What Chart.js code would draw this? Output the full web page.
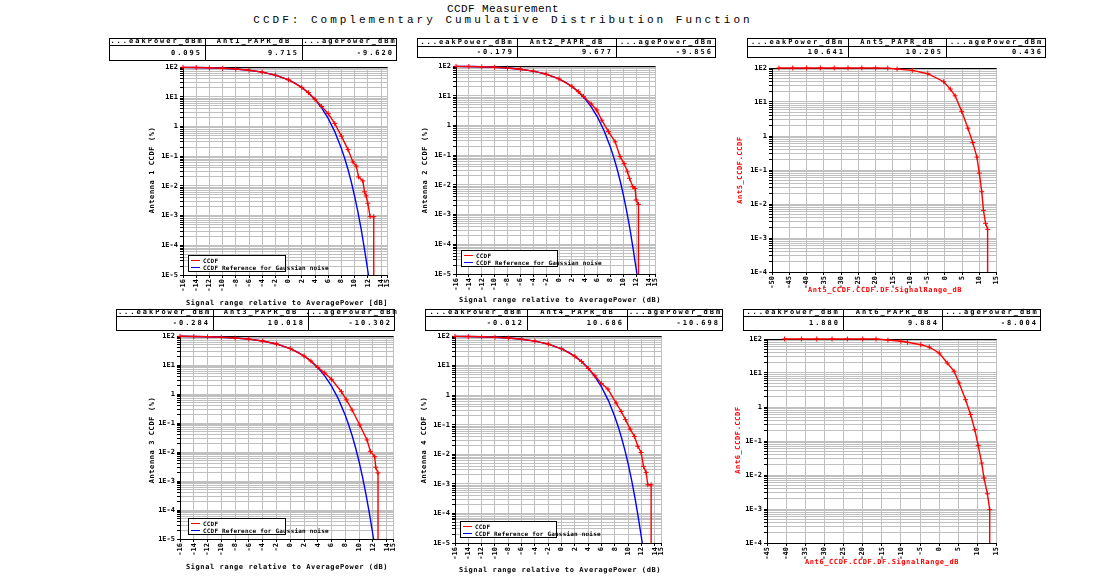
<!DOCTYPE html>
<html><head><meta charset="utf-8">
<script src="https://cdn.jsdelivr.net/npm/chart.js@4/dist/chart.umd.min.js"></script>
<style>
body{margin:0;background:#fff;width:1095px;height:585px;position:relative;overflow:hidden;font-family:'DejaVu Sans Mono',monospace;}
.ttl{position:absolute;left:0;width:1006px;text-align:center;font-family:'Liberation Mono',monospace;font-size:11px;line-height:11px;color:#000;}
.tbl{position:absolute;border:1.5px solid #000;box-sizing:border-box;font:bold 7px 'DejaVu Sans Mono',monospace;letter-spacing:2px;color:#000;}
.cell{position:absolute;box-sizing:border-box;white-space:nowrap;display:flex;align-items:center;line-height:7px;}
.axt{position:absolute;white-space:nowrap;font:bold 7px 'DejaVu Sans Mono',monospace;letter-spacing:0.6px;color:#000;transform:translate(-50%,-50%);}
.rot{transform:translate(-50%,-50%) rotate(-90deg);}
.leg{position:absolute;border:1.5px solid #000;background:#fff;box-sizing:border-box;font:bold 6px 'DejaVu Sans Mono',monospace;letter-spacing:0.2px;color:#000;}
.legrow{position:absolute;left:2px;display:flex;align-items:center;white-space:nowrap;line-height:7px;}
.legline{display:inline-block;width:9px;height:0;border-top:1.5px solid;margin-right:3px;}
canvas{position:absolute;}
</style></head><body>
<div class="ttl" style="top:4px;letter-spacing:0.4px">CCDF Measurement</div>
<div class="ttl" style="top:15px;letter-spacing:3px">CCDF: Complementary Cumulative Distribution Function</div>
<script>
// ---------------- data ----------------
const gaussX = [-16,-14,-12,-10,-8,-6,-4,-2,0,1,2,3,4,5,6,7,8,8.5,9,9.5,10,10.5,11,11.5,12.1];
const gaussY = [97.5,96.1,93.9,90.5,85.3,77.8,67.2,53.2,36.8,28.4,20.5,13.6,8.1,4.23,1.87,0.666,0.182,0.0842,0.0355,0.0135,0.00454,0.00134,0.00034,0.000073,0.00001];

const ant1X = [-16,-14,-12,-10,-8,-6,-4,-2,0,2,3,4,5,6,7,8,9,9.75,10.25,10.6,11.25,11.5,11.75,12,12.35,12.9,12.9];
const ant1Y = [97.5,96.1,93.9,90.5,85.3,77.8,67.2,53.2,36.8,20.5,13.7,8.2,4.7,2.7,1.25,0.47,0.166,0.064,0.046,0.020,0.0147,0.0063,0.0046,0.0026,0.00092,0.00092,0.00001];

const ant2X = [-16,-14,-12,-10,-8,-6,-4,-2,0,2,3,3.8,5,5.86,6.64,7.68,8.72,9.49,10.11,10.63,10.94,11.46,11.82,11.98,12.34,12.34];
const ant2Y = [97.5,96.1,93.9,90.5,85.3,77.8,67.2,53.2,36.8,20.5,13.7,9.5,5.3,3.3,1.5,0.62,0.28,0.089,0.052,0.0275,0.0166,0.0087,0.0076,0.0031,0.0022,0.00001];

const ant3X = [-16,-14,-12,-10,-8,-6,-4,-2,0,2,3,4,5,6,7.43,8.15,8.98,10.09,11.15,11.63,12.26,12.4,12.74,12.74];
const ant3Y = [97.5,96.1,93.9,90.5,85.3,77.8,67.2,53.2,36.8,20.5,13.7,8.3,5.3,3.2,1.2,0.63,0.28,0.085,0.026,0.0105,0.0069,0.003,0.0019,0.00001];

const ant4X = [-16,-14,-12,-10,-8,-6,-4,-2,0,2,3,4,5,5.95,6.95,8.19,8.94,9.59,10.28,10.93,11.43,11.93,12.28,12.68,12.93,13.43,13.43];
const ant4Y = [97.5,96.1,93.9,90.5,85.3,77.8,67.2,53.2,36.8,20.5,13.7,8.0,4.5,2.5,1.6,0.54,0.28,0.148,0.071,0.04,0.0186,0.0115,0.0039,0.00245,0.00093,0.00093,0.00001];

const ant5X = [-48,-44,-40,-36,-32,-28,-24,-20,-16.5,-13.8,-9.4,-4.9,-0.3,1.6,3.0,4.9,6.7,8.1,9.3,10.0,10.7,11.2,11.8,12.4,12.4];
const ant5Y = [100,100,100,100,100,100,100,100,99,93.4,85,68,39.5,24,15.2,5.3,1.7,0.64,0.24,0.081,0.023,0.0065,0.0027,0.0018,0.0001];

const ant6X = [-40.4,-36,-32,-28,-24,-20,-16.5,-13.4,-10,-8.3,-4.8,-2.6,0,2.1,3.9,5.2,6.9,8.2,9.3,10.2,11.1,11.7,12.6,13.2,13.2];
const ant6Y = [100,100,100,100,100,100,99.5,93,86,80,68,58,38.7,19.7,11.2,5.1,1.64,0.6,0.215,0.073,0.0225,0.0082,0.0028,0.00096,0.0001];

const dbTicks = [-16,-14,-12,-10,-8,-6,-4,-2,0,2,4,6,8,10,12,14,15];
const wideTicks5 = [-50,-45,-40,-35,-30,-25,-20,-15,-10,-5,0,5,10,15];
const wideTicks6 = [-45,-40,-35,-30,-25,-20,-15,-10,-5,0,5,10,15];

const tblHeads = {
  p1:["...eakPower_dBm","Ant1_PAPR_dB","...agePower_dBm"],
  p2:["...eakPower_dBm","Ant2_PAPR_dB","...agePower_dBm"],
  p3:["...eakPower_dBm","Ant5_PAPR_dB","...agePower_dBm"],
  p4:["...eakPower_dBm","Ant3_PAPR_dB","...agePower_dBm"],
  p5:["...eakPower_dBm","Ant4_PAPR_dB","...agePower_dBm"],
  p6:["...eakPower_dBm","Ant6_PAPR_dB","...agePower_dBm"]
};
const tblVals = {
  p1:["0.095","9.715","-9.620"],
  p2:["-0.179","9.677","-9.856"],
  p3:["10.641","10.205","0.436"],
  p4:["-0.284","10.018","-10.302"],
  p5:["-0.012","10.686","-10.698"],
  p6:["1.880","9.884","-8.004"]
};
const xTitleStd = "Signal range relative to AveragePower [dB]";
const xTitleStd2 = "Signal range relative to AveragePower (dB)";
const yTitles = {p1:"Antenna 1 CCDF (%)",p2:"Antenna 2 CCDF (%)",p3:"Ant5_CCDF.CCDF",p4:"Antenna 3 CCDF (%)",p5:"Antenna 4 CCDF (%)",p6:"Ant6_CCDF.CCDF"};
const legLabels = ["CCDF","CCDF Reference for Gaussian noise"];

// ---------------- helpers ----------------
const RED='#ff0000', BLUE='#0000ff';
const FONT="'DejaVu Sans Mono', monospace";

function makeTable(x,y,cols,hH,vH,heads,vals){
  const t=document.createElement('div');t.className='tbl';
  const W=cols[cols.length-1]-x;
  t.style.cssText+=`left:${x}px;top:${y}px;width:${W}px;height:${hH+vH}px;`;
  for(let i=0;i<3;i++){
    const l=(i===0?x:cols[i-1])-x, r=cols[i]-x;
    const h=document.createElement('div');h.className='cell';
    h.style.cssText=`left:${l-1}px;top:-1px;width:${r-l}px;height:${hH}px;justify-content:center;border-bottom:1.5px solid #000;${i>0?'border-left:1.5px solid #000;':''}`;
    h.textContent=heads[i];t.appendChild(h);
    const v=document.createElement('div');v.className='cell';
    v.style.cssText=`left:${l-1}px;top:${hH-1}px;width:${r-l}px;height:${vH-1}px;justify-content:flex-end;padding-right:3px;${i>0?'border-left:1.5px solid #000;':''}`;
    v.textContent=vals[i];t.appendChild(v);
  }
  document.body.appendChild(t);
}
function axTitle(txt,cx,cy,rot,color){
  const d=document.createElement('div');d.className='axt'+(rot?' rot':'');
  d.style.left=cx+'px';d.style.top=cy+'px';if(color)d.style.color=color;
  d.textContent=txt;document.body.appendChild(d);
}
function legend(x,y,w,h){
  const d=document.createElement('div');d.className='leg';
  d.style.cssText+=`left:${x}px;top:${y}px;width:${w}px;height:${h}px;`;
  [RED,BLUE].forEach((c,i)=>{
    const r=document.createElement('div');r.className='legrow';
    r.style.top=(i===0?1:8)+'px';
    r.innerHTML=`<span class="legline" style="border-color:${c}"></span><span>${legLabels[i]}</span>`;
    d.appendChild(r);
  });
  document.body.appendChild(d);
}
function decadeLabel(v){
  const l=Math.log10(v), e=Math.round(l);
  if(Math.abs(l-e)>1e-6) return '';
  return e===0?'1':'1E'+e;
}
function makePanel(p){
  const yW=30, xH=26, padT=8, padR=8;
  const [L,R,T,B]=p.plot; const w=R-L, h=B-T;
  const c=document.createElement('canvas');
  c.width=yW+w+padR; c.height=padT+h+xH;
  c.style.cssText=`left:${L-yW}px;top:${T-padT}px;width:${c.width}px;height:${c.height}px;`;
  document.body.appendChild(c);
  const ds=p.series.map(s=>({
    data:s.x.map((v,i)=>({x:v,y:s.y[i]})),
    borderColor:s.color, backgroundColor:s.color, borderWidth:1.4,
    pointStyle:'cross', pointBorderWidth:1,
    pointRadius: s.marks ? (ctx=>ctx.dataIndex===s.x.length-1?0:2.5) : 0,
    fill:false, tension:0, clip:5
  }));
  const ymin=p.ymin;
  new Chart(c,{
    type:'line',
    data:{datasets:ds},
    options:{
      responsive:false, animation:false, devicePixelRatio:1,
      layout:{padding:{top:padT,right:padR,left:0,bottom:0}},
      plugins:{legend:{display:false},tooltip:{enabled:false}},
      scales:{
        x:{type:'linear',min:p.xmin,max:p.xmax,
          afterFit:s=>{s.height=xH;},
          afterBuildTicks:s=>{s.ticks=p.xticks.map(v=>({value:v}));},
          ticks:{autoSkip:false,maxRotation:90,minRotation:90,color:'#000',padding:1,
            font:{family:FONT,size:7,weight:'bold'}},
          grid:{color:'#c0c0c0',tickColor:'#000',tickLength:3,lineWidth:1},
          border:{color:'#000',width:1}},
        y:{type:'logarithmic',min:ymin,max:100,
          afterFit:s=>{s.width=yW;},
          afterBuildTicks:s=>{
            const t=[];const e0=Math.round(Math.log10(ymin));
            for(let e=e0;e<2;e++){for(let m=1;m<10;m++){t.push({value:m*Math.pow(10,e)});}}
            t.push({value:100});s.ticks=t;},
          ticks:{autoSkip:false,color:'#000',padding:2,callback:v=>decadeLabel(v),
            font:{family:FONT,size:7,weight:'bold'}},
          grid:{color:ctx=>(ctx.tick&&ctx.tick.value===100)?'#000':'#c0c0c0',
            tickColor:'#000',tickLength:3,lineWidth:1},
          border:{color:'#000',width:1}}
      }
    }
  });
}

// ---------------- panels ----------------
const panels=[
  {key:'p1',plot:[183,389,67,275],xmin:-16,xmax:15,xticks:dbTicks,ymin:1e-5,
   series:[{x:ant1X,y:ant1Y,color:RED,marks:true},{x:gaussX,y:gaussY,color:BLUE,marks:false}]},
  {key:'p2',plot:[456,657,66,274],xmin:-16,xmax:15,xticks:dbTicks,ymin:1e-5,
   series:[{x:ant2X,y:ant2Y,color:RED,marks:true},{x:gaussX,y:gaussY,color:BLUE,marks:false}]},
  {key:'p3',plot:[772,998,68,272],xmin:-50,xmax:15,xticks:wideTicks5,ymin:1e-4,
   series:[{x:ant5X,y:ant5Y,color:RED,marks:true}]},
  {key:'p4',plot:[180,395,336,539],xmin:-16,xmax:15,xticks:dbTicks,ymin:1e-5,
   series:[{x:ant3X,y:ant3Y,color:RED,marks:true},{x:gaussX,y:gaussY,color:BLUE,marks:false}]},
  {key:'p5',plot:[455,663,336,543],xmin:-16,xmax:15,xticks:dbTicks,ymin:1e-5,
   series:[{x:ant4X,y:ant4Y,color:RED,marks:true},{x:gaussX,y:gaussY,color:BLUE,marks:false}]},
  {key:'p6',plot:[767,998,339,543],xmin:-45,xmax:15,xticks:wideTicks6,ymin:1e-4,
   series:[{x:ant6X,y:ant6Y,color:RED,marks:true}]}
];
panels.forEach(makePanel);

// tables
makeTable(109,38,[205,302,397],8,15,tblHeads.p1,tblVals.p1);
makeTable(417,38,[517,616,716],9,11,tblHeads.p2,tblVals.p2);
makeTable(747,38,[848,946,1046],9,11,tblHeads.p3,tblVals.p3);
makeTable(116,309,[213,308,395],8,14,tblHeads.p4,tblVals.p4);
makeTable(425,309,[527,627,723],8,14,tblHeads.p5,tblVals.p5);
makeTable(743,309,[843,942,1041],8,14,tblHeads.p6,tblVals.p6);

// axis titles
axTitle(xTitleStd,287,303,false);
axTitle(xTitleStd2,560,300,false);
axTitle("Ant5_CCDF.CCDF.DF.SignalRange_dB",885,290,false,RED);
axTitle(xTitleStd2,287,567,false);
axTitle(xTitleStd2,560,570,false);
axTitle("Ant6_CCDF.CCDF.DF.SignalRange_dB",882,562,false,RED);
axTitle(yTitles.p1,152,170,true);
axTitle(yTitles.p2,425,170,true);
axTitle(yTitles.p3,740,170,true,RED);
axTitle(yTitles.p4,152,440,true);
axTitle(yTitles.p5,424,440,true);
axTitle(yTitles.p6,738,440,true,RED);

// legends
legend(188,255,98,17);
legend(461,250,97,17);
legend(188,518,98,17);
legend(460,521,97,17);
</script>
</body></html>
